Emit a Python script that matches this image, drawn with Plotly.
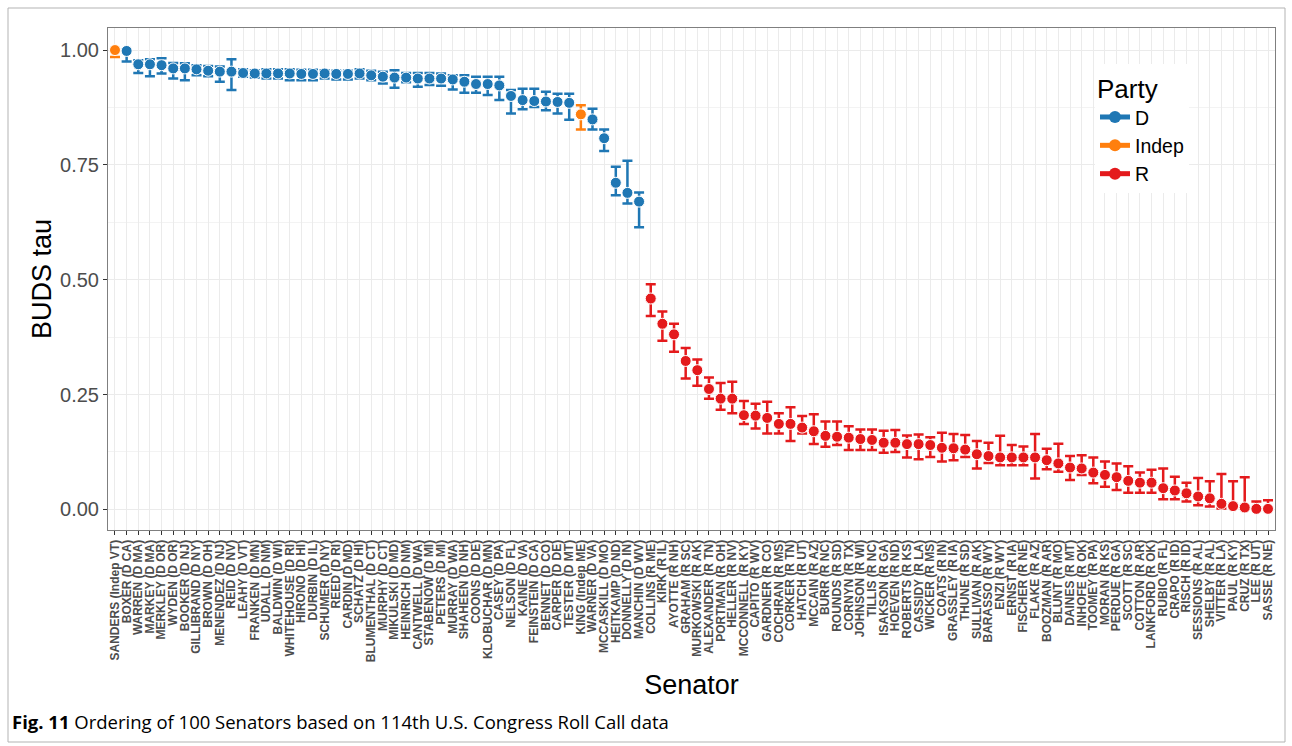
import plotly.graph_objects as go

# Senators ordered by BUDS tau (114th Congress roll calls)
senators = [
    "SANDERS (Indep VT)", "BOXER (D CA)", "WARREN (D MA)", "MARKEY (D MA)", "MERKLEY (D OR)",
    "WYDEN (D OR)", "BOOKER (D NJ)", "GILLIBRAND (D NY)", "BROWN (D OH)", "MENENDEZ (D NJ)",
    "REID (D NV)", "LEAHY (D VT)", "FRANKEN (D MN)", "UDALL (D NM)", "BALDWIN (D WI)",
    "WHITEHOUSE (D RI)", "HIRONO (D HI)", "DURBIN (D IL)", "SCHUMER (D NY)", "REED (D RI)",
    "CARDIN (D MD)", "SCHATZ (D HI)", "BLUMENTHAL (D CT)", "MURPHY (D CT)", "MIKULSKI (D MD)",
    "HEINRICH (D NM)", "CANTWELL (D WA)", "STABENOW (D MI)", "PETERS (D MI)", "MURRAY (D WA)",
    "SHAHEEN (D NH)", "COONS (D DE)", "KLOBUCHAR (D MN)", "CASEY (D PA)", "NELSON (D FL)",
    "KAINE (D VA)", "FEINSTEIN (D CA)", "BENNET (D CO)", "CARPER (D DE)", "TESTER (D MT)",
    "KING (Indep ME)", "WARNER (D VA)", "MCCASKILL (D MO)", "HEITKAMP (D ND)", "DONNELLY (D IN)",
    "MANCHIN (D WV)", "COLLINS (R ME)", "KIRK (R IL)", "AYOTTE (R NH)", "GRAHAM (R SC)",
    "MURKOWSKI (R AK)", "ALEXANDER (R TN)", "PORTMAN (R OH)", "HELLER (R NV)", "MCCONNELL (R KY)",
    "CAPITO (R WV)", "GARDNER (R CO)", "COCHRAN (R MS)", "CORKER (R TN)", "HATCH (R UT)",
    "MCCAIN (R AZ)", "BURR (R NC)", "ROUNDS (R SD)", "CORNYN (R TX)", "JOHNSON (R WI)",
    "TILLIS (R NC)", "ISAKSON (R GA)", "HOEVEN (R ND)", "ROBERTS (R KS)", "CASSIDY (R LA)",
    "WICKER (R MS)", "COATS (R IN)", "GRASSLEY (R IA)", "THUNE (R SD)", "SULLIVAN (R AK)",
    "BARASSO (R WY)", "ENZI (R WY)", "ERNST (R IA)", "FISCHER (R NE)", "FLAKE (R AZ)",
    "BOOZMAN (R AR)", "BLUNT (R MO)", "DAINES (R MT)", "INHOFE (R OK)", "TOOMEY (R PA)",
    "MORAN (R KS)", "PERDUE (R GA)", "SCOTT (R SC)", "COTTON (R AR)", "LANKFORD (R OK)",
    "RUBIO (R FL)", "CRAPO (R ID)", "RISCH (R ID)", "SESSIONS (R AL)", "SHELBY (R AL)",
    "VITTER (R LA)", "PAUL (R KY)", "CRUZ (R TX)", "LEE (R UT)", "SASSE (R NE)",
]

tau = [
    1.000, 0.998, 0.969, 0.969, 0.967, 0.960, 0.960, 0.958, 0.955, 0.953,
    0.953, 0.950, 0.949, 0.949, 0.949, 0.949, 0.948, 0.948, 0.949, 0.948,
    0.948, 0.949, 0.945, 0.942, 0.940, 0.940, 0.938, 0.938, 0.938, 0.936,
    0.931, 0.926, 0.926, 0.923, 0.900, 0.891, 0.889, 0.888, 0.887, 0.885,
    0.860, 0.849, 0.808, 0.711, 0.689, 0.670, 0.459, 0.404, 0.381, 0.323,
    0.303, 0.262, 0.241, 0.241, 0.205, 0.204, 0.199, 0.186, 0.186, 0.178,
    0.170, 0.160, 0.158, 0.156, 0.153, 0.151, 0.145, 0.145, 0.142, 0.142,
    0.140, 0.134, 0.133, 0.130, 0.120, 0.116, 0.113, 0.113, 0.113, 0.113,
    0.107, 0.100, 0.091, 0.089, 0.080, 0.075, 0.070, 0.062, 0.058, 0.058,
    0.046, 0.041, 0.035, 0.028, 0.024, 0.012, 0.007, 0.004, 0.001, 0.001,
]

tau_upper = [
    1.000, 1.000, 0.978, 0.980, 0.982, 0.972, 0.971, 0.967, 0.965, 0.964,
    0.980, 0.958, 0.956, 0.958, 0.958, 0.958, 0.957, 0.957, 0.956, 0.955,
    0.955, 0.958, 0.955, 0.953, 0.956, 0.950, 0.950, 0.950, 0.949, 0.945,
    0.945, 0.942, 0.942, 0.942, 0.913, 0.916, 0.916, 0.909, 0.905, 0.905,
    0.880, 0.872, 0.827, 0.746, 0.759, 0.690, 0.490, 0.431, 0.404, 0.351,
    0.326, 0.287, 0.275, 0.278, 0.236, 0.230, 0.234, 0.209, 0.222, 0.203,
    0.207, 0.191, 0.191, 0.181, 0.174, 0.174, 0.171, 0.173, 0.161, 0.163,
    0.157, 0.167, 0.164, 0.162, 0.149, 0.145, 0.160, 0.140, 0.137, 0.164,
    0.132, 0.143, 0.116, 0.118, 0.113, 0.104, 0.100, 0.094, 0.080, 0.086,
    0.089, 0.071, 0.058, 0.068, 0.061, 0.077, 0.061, 0.070, 0.017, 0.020,
]

tau_lower = [
    0.985, 0.975, 0.950, 0.943, 0.949, 0.938, 0.934, 0.945, 0.943, 0.931,
    0.913, 0.942, 0.940, 0.938, 0.938, 0.934, 0.934, 0.934, 0.938, 0.936,
    0.936, 0.938, 0.934, 0.927, 0.918, 0.930, 0.920, 0.924, 0.922, 0.914,
    0.907, 0.907, 0.902, 0.891, 0.862, 0.871, 0.876, 0.869, 0.862, 0.848,
    0.827, 0.827, 0.780, 0.684, 0.666, 0.614, 0.421, 0.367, 0.343, 0.285,
    0.269, 0.241, 0.217, 0.209, 0.186, 0.176, 0.165, 0.165, 0.149, 0.165,
    0.142, 0.136, 0.140, 0.129, 0.129, 0.129, 0.123, 0.125, 0.113, 0.109,
    0.114, 0.104, 0.107, 0.114, 0.089, 0.101, 0.096, 0.096, 0.096, 0.067,
    0.087, 0.082, 0.064, 0.075, 0.057, 0.049, 0.042, 0.036, 0.036, 0.036,
    0.022, 0.022, 0.017, 0.009, 0.006, 0.002, 0.006, 0.002, 0.000, 0.000,
]

parties = ["D", "Indep", "R"]
party_colors = {"D": "#1f77b4", "Indep": "#ff7f0e", "R": "#e41a1c"}


def party_of(label):
    return label.split("(")[1].split(" ")[0]


fig = go.Figure()

for p in parties:
    idx = [i for i, s in enumerate(senators) if party_of(s) == p]
    xs = [senators[i] for i in idx]
    ys = [tau[i] for i in idx]
    plus = [tau_upper[i] - tau[i] for i in idx]
    minus = [tau[i] - tau_lower[i] for i in idx]
    col = party_colors[p]
    fig.add_trace(go.Scatter(
        x=xs, y=ys, mode="markers", name=p, showlegend=False,
        marker=dict(size=11, color=col, line=dict(color="white", width=1)),
        error_y=dict(type="data", symmetric=False, array=plus, arrayminus=minus,
                     color=col, thickness=2.5, width=5),
    ))
    # legend key: errorbar line with point
    fig.add_trace(go.Scatter(
        x=[None], y=[None], mode="lines+markers", name=p,
        line=dict(color=col, width=2.5),
        marker=dict(size=10, color=col),
    ))

L, R, T, B = 108, 17, 28, 216
W, H = 1292, 746
pw, ph = W - L - R, H - T - B


def px_x(x):
    return (x - L) / pw


def px_y(y):
    return (H - B - y) / ph


SANS = "Liberation Sans, Arial, sans-serif"

fig.update_layout(
    width=W, height=H,
    margin=dict(l=L, r=R, t=T, b=B),
    paper_bgcolor="white",
    plot_bgcolor="white",
    font=dict(family=SANS, color="#000000"),
    xaxis=dict(
        type="category",
        categoryorder="array", categoryarray=senators,
        tickmode="array", tickvals=senators, ticktext=senators,
        range=[-0.6, 99.6],
        tickangle=-90,
        tickfont=dict(size=12, color="#4d4d4d", family=SANS, weight="bold"),
        ticks="outside", ticklen=4, tickcolor="#333333", tickwidth=1,
        showgrid=True, gridcolor="#ebebeb", gridwidth=1,
        showline=True, mirror=True, linecolor="#7f7f7f", linewidth=1,
        zeroline=False,
        title=dict(text="Senator", font=dict(size=27, color="#000000", family=SANS), standoff=13),
        automargin=False,
    ),
    yaxis=dict(
        range=[-0.045, 1.048],
        tickvals=[0, 0.25, 0.5, 0.75, 1.0],
        ticktext=["0.00", "0.25", "0.50", "0.75", "1.00"],
        tickfont=dict(size=20, color="#4d4d4d", family=SANS),
        ticks="outside", ticklen=4, tickcolor="#333333", tickwidth=1,
        showgrid=True, gridcolor="#ebebeb", gridwidth=1,
        minor=dict(tickvals=[0.125, 0.375, 0.625, 0.875], showgrid=True,
                   gridcolor="#f3f3f3", gridwidth=0.6, ticks=""),
        showline=True, mirror=True, linecolor="#7f7f7f", linewidth=1,
        zeroline=False,
        title=dict(text="BUDS tau", font=dict(size=27, color="#000000", family=SANS), standoff=0),
        automargin=False,
    ),
    legend=dict(
        x=px_x(1095), y=px_y(64), xanchor="left", yanchor="top",
        bgcolor="white", borderwidth=0,
        title=dict(text="Party", font=dict(size=26, family=SANS)),
        font=dict(size=19.5, family=SANS),
        itemsizing="constant",
        tracegroupgap=0,
    ),
    shapes=[
        dict(type="rect", xref="paper", yref="paper",
             x0=px_x(8), x1=px_x(1285), y0=px_y(742), y1=px_y(8),
             line=dict(color="#b3b3b3", width=1), fillcolor="rgba(0,0,0,0)", layer="below"),
    ],
    annotations=[
        dict(xref="paper", yref="paper", x=px_x(10), y=px_y(721),
             xanchor="left", yanchor="middle", showarrow=False,
             text="<b>Fig. 11</b> Ordering of 100 Senators based on 114th U.S. Congress Roll Call data",
             font=dict(size=18.5, family="Open Sans, Noto Sans, sans-serif", color="#000000")),
    ],
)

fig.write_html("out.html")
